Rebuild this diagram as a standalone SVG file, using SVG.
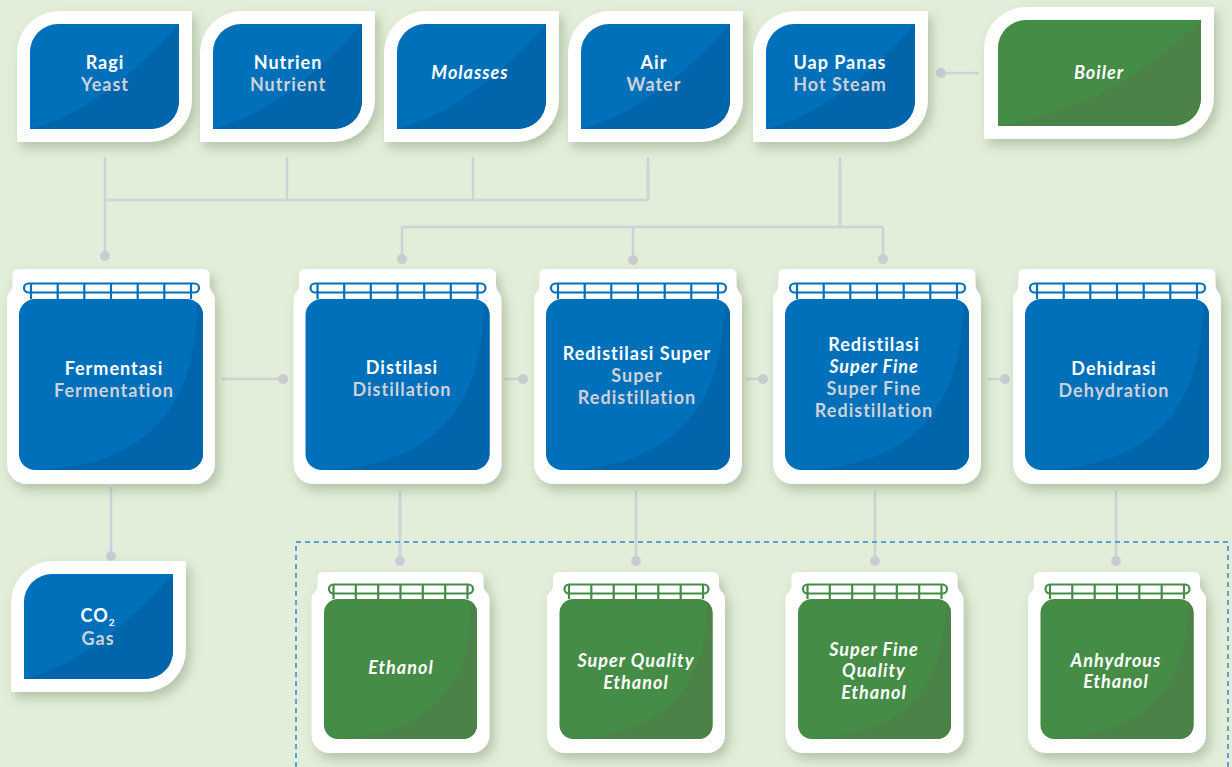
<svg xmlns="http://www.w3.org/2000/svg" xmlns:xlink="http://www.w3.org/1999/xlink" width="1232" height="767" viewBox="0 0 1232 767">
<style>
.t{font-family:Lato,"Open Sans","DejaVu Sans",sans-serif;font-weight:700;font-size:18px;text-anchor:middle;letter-spacing:1px}
.w{fill:#ffffff}
.g{fill:#cdd1d8}
.i{font-style:italic}
.ln{stroke:#cfd1d6;stroke-width:2.5;fill:none}
.dot{fill:#c9ccd3}
.outer{fill:#ffffff;filter:url(#sh)}
.blue{fill:#0070bb}
.bluedk{fill:#0065aa}
.green{fill:#458c46}
.greendk{fill:#4b8247}
.railb{stroke:#0070bb;stroke-width:2.2;fill:none}
.railg{stroke:#458c46;stroke-width:2.2;fill:none}
</style>
<defs>
<filter id="sh" x="-20%" y="-20%" width="150%" height="150%">
<feDropShadow dx="4" dy="6" stdDeviation="6" flood-color="#6f8060" flood-opacity="0.4"/>
</filter>
<clipPath id="cb"><rect x="-92" y="30" width="184" height="171" rx="16"/></clipPath>
<clipPath id="cg"><rect x="-76.5" y="27" width="153" height="140" rx="14"/></clipPath>
<g id="leafB">
<path class="outer" d="M42,0 H175 V89 A42 42 0 0 1 133,131 H0 V42 A42 42 0 0 1 42,0 Z"/>
<path class="blue" d="M41,13 H162 V90 A28 28 0 0 1 134,118 H13 V41 A28 28 0 0 1 41,13 Z"/>
<path class="bluedk" d="M13,118 Q85,100 162,13 V90 A28 28 0 0 1 134,118 Z"/>
</g>
<g id="tankB">
<path class="outer" d="M-92.5,0 H92.5 Q98.5,0 98.5,6 V15 C98.5,24 104,22 104,32 V195 A20 20 0 0 1 84,215 H-84 A20 20 0 0 1 -104,195 V32 C-104,22 -98.5,24 -98.5,15 V6 Q-98.5,0 -92.5,0 Z"/>
<rect class="blue" x="-92" y="30" width="184" height="171" rx="16"/>
<path class="bluedk" clip-path="url(#cb)" d="M-76,201 Q88,196 86,30 H93 V202 Z"/>
<rect class="railb" x="-87" y="14.5" width="175" height="9" rx="4.5"/>
<path class="railb" d="M-80,14.5 V30 M-53.3,14.5 V30 M-26.7,14.5 V30 M0,14.5 V30 M26.7,14.5 V30 M53.3,14.5 V30 M80,14.5 V30"/>
</g>
<g id="tankG">
<path class="outer" d="M-77,0 H77 Q83,0 83,6 V13 C83,21 89,19 89,28 V163 A18 18 0 0 1 71,181 H-71 A18 18 0 0 1 -89,163 V28 C-89,19 -83,21 -83,13 V6 Q-83,0 -77,0 Z"/>
<rect class="green" x="-76.5" y="27" width="153" height="140" rx="14"/>
<path class="greendk" clip-path="url(#cg)" d="M-68,167 Q74,162 71,27 H78 V168 Z"/>
<rect class="railg" x="-71.5" y="12.5" width="144" height="9" rx="4.5"/>
<path class="railg" d="M-67,12.5 V27 M-44.7,12.5 V27 M-22.3,12.5 V27 M0,12.5 V27 M22.3,12.5 V27 M44.7,12.5 V27 M67,12.5 V27"/>
</g>
</defs>

<rect width="1232" height="767" fill="#e2eed9"/>

<g id="connectors">
<path class="ln" d="M105,157 V256 M287,157 V200 M473,157 V200 M648,157 V200 M105,200 H648"/>
<path class="ln" d="M840,157 V227 M402,227 H883 M402,227 V259 M633,227 V260 M883,227 V259"/>
<path class="ln" d="M941,73 H979"/>
<path class="ln" d="M222,379 H283 M504,379 H523 M746,379 H763 M987,379 H1005"/>
<path class="ln" d="M111,487 V556 M400,491 V561 M636,491 V561 M875,491 V561 M1116,491 V561"/>
<circle class="dot" cx="105" cy="256" r="5"/>
<circle class="dot" cx="402" cy="259" r="5"/>
<circle class="dot" cx="633" cy="260" r="5"/>
<circle class="dot" cx="883" cy="259" r="5"/>
<circle class="dot" cx="941" cy="73" r="5"/>
<circle class="dot" cx="283" cy="379" r="5"/>
<circle class="dot" cx="523" cy="379" r="5"/>
<circle class="dot" cx="763" cy="379" r="5"/>
<circle class="dot" cx="1005" cy="379" r="5"/>
<circle class="dot" cx="111" cy="556" r="5"/>
<circle class="dot" cx="400" cy="561" r="5"/>
<circle class="dot" cx="636" cy="561" r="5"/>
<circle class="dot" cx="875" cy="561" r="5"/>
<circle class="dot" cx="1116" cy="561" r="5"/>
<path d="M296,767 V542 H1228 V767" fill="none" stroke="#2a8ad4" stroke-width="1.5" stroke-dasharray="5 4"/>
</g>

<g id="node-ragi">
<use xlink:href="#leafB" href="#leafB" transform="translate(17,11)"/>
<text class="t w" x="105" y="69">Ragi</text>
<text class="t g" x="105" y="91">Yeast</text>
</g>
<g id="node-nutrien">
<use xlink:href="#leafB" href="#leafB" transform="translate(200,11)"/>
<text class="t w" x="288" y="69">Nutrien</text>
<text class="t g" x="288" y="91">Nutrient</text>
</g>
<g id="node-molasses">
<use xlink:href="#leafB" href="#leafB" transform="translate(384,11)"/>
<text class="t w i" x="470" y="79">Molasses</text>
</g>
<g id="node-air">
<use xlink:href="#leafB" href="#leafB" transform="translate(568,11)"/>
<text class="t w" x="654" y="69">Air</text>
<text class="t g" x="654" y="91">Water</text>
</g>
<g id="node-uap">
<use xlink:href="#leafB" href="#leafB" transform="translate(753,11)"/>
<text class="t w" x="840" y="69">Uap Panas</text>
<text class="t g" x="840" y="91">Hot Steam</text>
</g>
<g id="node-boiler">
<path class="outer" d="M1026,7 H1214 V97 A42 42 0 0 1 1172,139 H984 V49 A42 42 0 0 1 1026,7 Z"/>
<path class="green" d="M1026,20 H1201 V98 A28 28 0 0 1 1173,126 H998 V48 A28 28 0 0 1 1026,20 Z"/>
<path class="greendk" d="M998,126 Q1115,106 1201,20 V98 A28 28 0 0 1 1173,126 Z"/>
<text class="t w i" x="1099" y="79">Boiler</text>
</g>

<g id="node-fermentasi">
<use xlink:href="#tankB" href="#tankB" transform="translate(111,269)"/>
<text class="t w" x="114" y="375">Fermentasi</text>
<text class="t g" x="114" y="397">Fermentation</text>
</g>
<g id="node-distilasi">
<use xlink:href="#tankB" href="#tankB" transform="translate(397.5,269)"/>
<text class="t w" x="402" y="374">Distilasi</text>
<text class="t g" x="402" y="396">Distillation</text>
</g>
<g id="node-redistilasi-super">
<use xlink:href="#tankB" href="#tankB" transform="translate(638,269)"/>
<text class="t w" x="637" y="360">Redistilasi Super</text>
<text class="t g" x="637" y="382">Super</text>
<text class="t g" x="637" y="404">Redistillation</text>
</g>
<g id="node-redistilasi-superfine">
<use xlink:href="#tankB" href="#tankB" transform="translate(877,269)"/>
<text class="t w" x="874" y="351">Redistilasi</text>
<text class="t w i" x="874" y="373">Super Fine</text>
<text class="t g" x="874" y="395">Super Fine</text>
<text class="t g" x="874" y="417">Redistillation</text>
</g>
<g id="node-dehidrasi">
<use xlink:href="#tankB" href="#tankB" transform="translate(1117,269)"/>
<text class="t w" x="1114" y="375">Dehidrasi</text>
<text class="t g" x="1114" y="397">Dehydration</text>
</g>

<g id="node-co2">
<use xlink:href="#leafB" href="#leafB" transform="translate(11,561)"/>
<text class="t w" x="98" y="622">CO<tspan font-size="10" dy="4">2</tspan></text>
<text class="t g" x="98" y="645">Gas</text>
</g>

<g id="node-ethanol">
<use xlink:href="#tankG" href="#tankG" transform="translate(400.5,572)"/>
<text class="t w i" x="401" y="674">Ethanol</text>
</g>
<g id="node-super-quality">
<use xlink:href="#tankG" href="#tankG" transform="translate(636,572)"/>
<text class="t w i" x="636" y="667">Super Quality</text>
<text class="t w i" x="636" y="689">Ethanol</text>
</g>
<g id="node-super-fine-quality">
<use xlink:href="#tankG" href="#tankG" transform="translate(874.5,572)"/>
<text class="t w i" x="874" y="656">Super Fine</text>
<text class="t w i" x="874" y="677">Quality</text>
<text class="t w i" x="874" y="699">Ethanol</text>
</g>
<g id="node-anhydrous">
<use xlink:href="#tankG" href="#tankG" transform="translate(1117,572)"/>
<text class="t w i" x="1116" y="667">Anhydrous</text>
<text class="t w i" x="1116" y="688">Ethanol</text>
</g>
</svg>
